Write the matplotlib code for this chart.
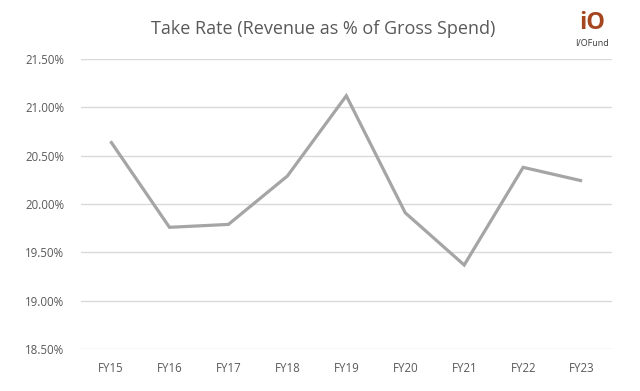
import matplotlib
matplotlib.use("Agg")
from matplotlib import pyplot as plt
from matplotlib.ticker import FuncFormatter

# take rate by fiscal year, percent
years = ["FY15", "FY16", "FY17", "FY18", "FY19", "FY20", "FY21", "FY22", "FY23"]
take_rate = [20.65, 19.76, 19.79, 20.29, 21.12, 19.91, 19.37, 20.38, 20.24]
y_ticks = [18.5, 19.0, 19.5, 20.0, 20.5, 21.0, 21.5]

plt.rcParams["font.family"] = ["Open Sans", "DejaVu Sans"]
text_color = "#595959"

fig = plt.figure(figsize=(6.4, 3.91), dpi=100)
ax = fig.add_axes([0.1266, 0.107, 0.829, 0.742])

ax.plot(range(len(years)), take_rate, color="#a5a5a5", linewidth=2.3,
        solid_joinstyle="miter", solid_capstyle="butt")

ax.set_xlim(-0.5, len(years) - 0.5)
ax.set_ylim(18.5, 21.5)
ax.set_yticks(y_ticks)
ax.yaxis.set_major_formatter(FuncFormatter(lambda v, _: f"{v:.2f}%"))
ax.set_xticks(range(len(years)))
ax.set_xticklabels(years)

ax.grid(axis="y", color="#d9d9d9", linewidth=1)
ax.set_axisbelow(True)
for side in ["top", "right", "left", "bottom"]:
    ax.spines[side].set_visible(False)
ax.tick_params(axis="both", length=0, labelsize=8.3, colors=text_color, pad=9)
ax.tick_params(axis="y", pad=12)

fig.text(0.505, 0.925, "Take Rate (Revenue as % of Gross Spend)", ha="center",
         va="center", fontsize=13, color=text_color)

# logo
fig.text(0.925, 0.94, "iO", ha="center", va="center", fontsize=17,
         color="#a4461f", fontweight="bold")
fig.text(0.925, 0.888, "I/OFund", ha="center", va="center", fontsize=6.5,
         color="#3a3a3a")

fig.savefig("out.png", dpi=100)
